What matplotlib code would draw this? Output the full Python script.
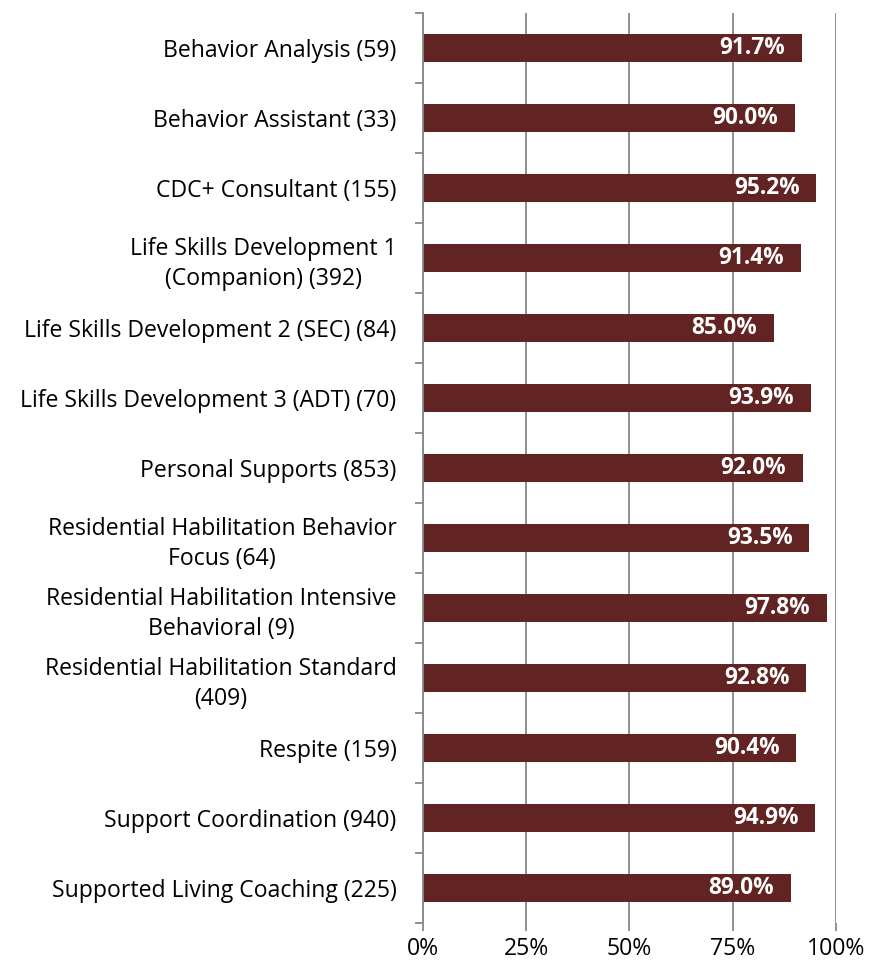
import matplotlib
matplotlib.use("Agg")
import matplotlib.pyplot as plt
from matplotlib.ticker import FixedLocator

plt.rcParams['font.family'] = ['Open Sans', 'DejaVu Sans']

categories = [
    "Behavior Analysis (59)",
    "Behavior Assistant (33)",
    "CDC+ Consultant (155)",
    "Life Skills Development 1\n(Companion) (392)",
    "Life Skills Development 2 (SEC) (84)",
    "Life Skills Development 3 (ADT) (70)",
    "Personal Supports (853)",
    "Residential Habilitation Behavior\nFocus (64)",
    "Residential Habilitation Intensive\nBehavioral (9)",
    "Residential Habilitation Standard\n(409)",
    "Respite (159)",
    "Support Coordination (940)",
    "Supported Living Coaching (225)",
]
values = [91.7, 90.0, 95.2, 91.4, 85.0, 93.9, 92.0, 93.5, 97.8, 92.8, 90.4, 94.9, 89.0]
x_ticks = [0, 25, 50, 75, 100]
x_tick_labels = ["0%", "25%", "50%", "75%", "100%"]

bar_color = "#622423"
grid_color = "#888888"
font_size = 16.6

fig = plt.figure(figsize=(8.7, 9.69), dpi=100)
ax = fig.add_axes([0.486, 0.0475, 0.475, 0.939])

n = len(categories)
ypos = list(range(n))
ax.barh(ypos, values, height=0.4, color=bar_color, zorder=3)

for y, v in zip(ypos, values):
    ax.annotate(f"{v:.1f}%", xy=(v, y), xytext=(-12, 0), textcoords="offset points",
                ha="right", va="center", color="white", fontweight="bold",
                fontsize=16.3, zorder=4)

ax.set_xlim(0, 100)
ax.set_ylim(n - 0.5, -0.5)
ax.set_xticks(x_ticks)
ax.set_xticklabels(x_tick_labels, fontsize=font_size)
ax.set_yticks(ypos)
ax.set_yticklabels(categories, fontsize=font_size, linespacing=1.35)
for lbl in ax.get_yticklabels():
    lbl.set_multialignment("center")
ax.tick_params(axis="y", which="major", length=0, pad=19)
ax.yaxis.set_minor_locator(FixedLocator([i - 0.5 for i in range(n + 1)]))
ax.tick_params(axis="y", which="minor", length=6, color=grid_color, width=1.3)
ax.tick_params(axis="x", length=6, color=grid_color, width=1.3, pad=4)

ax.grid(axis="x", color=grid_color, linewidth=1.3, zorder=0)
for side in ("top", "right", "bottom"):
    ax.spines[side].set_visible(False)
ax.spines["left"].set_color(grid_color)
ax.spines["left"].set_linewidth(1.3)
ax.spines["left"].set_zorder(5)

fig.savefig("out.png", dpi=100, facecolor="white")
